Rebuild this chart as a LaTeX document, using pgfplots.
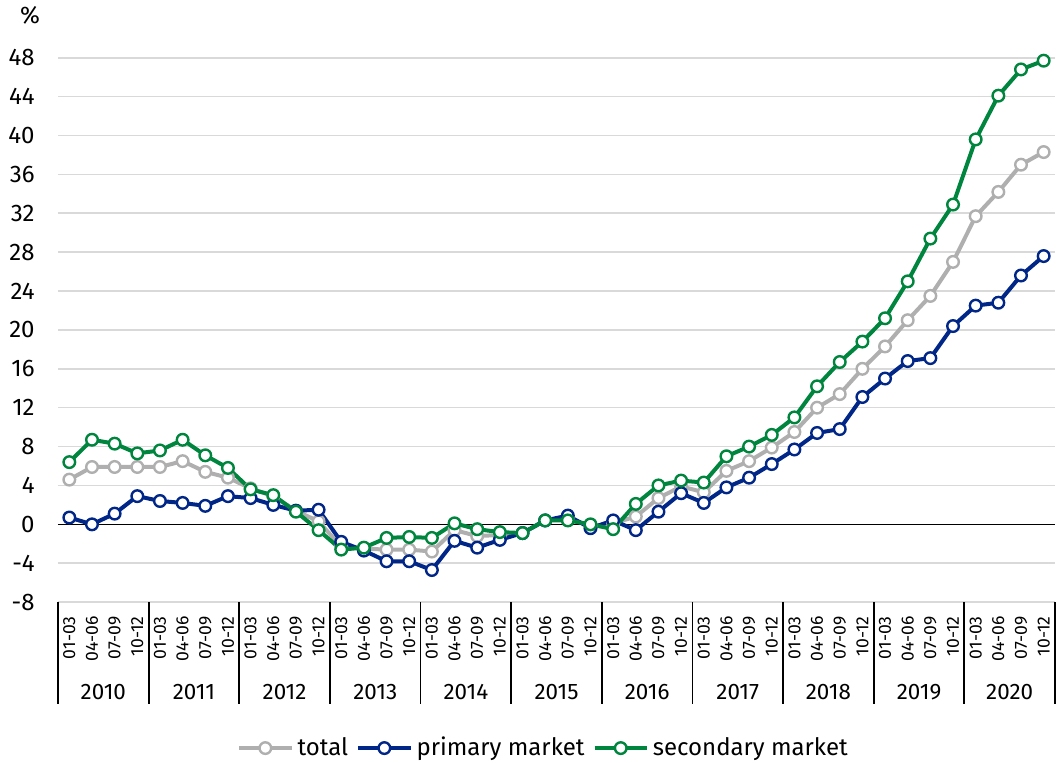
\documentclass[border=0pt]{standalone}
\usepackage{pgfplots}
\pgfplotsset{compat=1.18}
\usepackage{fontspec}
\setmainfont{Fira Sans}
\definecolor{cgray}{RGB}{175,175,175}
\definecolor{cblue}{RGB}{0,38,135}
\definecolor{cgreen}{RGB}{0,133,62}
\definecolor{cgrid}{RGB}{217,217,217}
\pgfplotstableread{
i total primary secondary
0 4.6 0.7 6.4
1 5.9 0.0 8.7
2 5.9 1.1 8.3
3 5.9 2.9 7.3
4 5.9 2.4 7.6
5 6.5 2.2 8.7
6 5.4 1.9 7.1
7 4.8 2.9 5.8
8 3.7 2.7 3.6
9 2.9 2.0 3.0
10 1.4 1.4 1.3
11 0.3 1.5 -0.6
12 -2.3 -1.8 -2.6
13 -2.5 -2.7 -2.4
14 -2.6 -3.8 -1.4
15 -2.6 -3.8 -1.3
16 -2.8 -4.7 -1.4
17 -0.6 -1.7 0.1
18 -1.2 -2.4 -0.5
19 -1.1 -1.6 -0.8
20 -0.9 -0.9 -0.9
21 0.4 0.4 0.4
22 0.7 0.9 0.4
23 -0.2 -0.4 0.0
24 0.1 0.4 -0.5
25 0.8 -0.6 2.1
26 2.7 1.3 4.0
27 3.9 3.2 4.5
28 3.3 2.2 4.3
29 5.5 3.8 7.0
30 6.5 4.8 8.0
31 7.9 6.2 9.2
32 9.5 7.7 11.0
33 12.0 9.4 14.2
34 13.4 9.8 16.7
35 16.0 13.1 18.8
36 18.3 15.0 21.2
37 21.0 16.8 25.0
38 23.5 17.1 29.4
39 27.0 20.4 32.9
40 31.7 22.5 39.6
41 34.2 22.8 44.1
42 37.0 25.6 46.8
43 38.3 27.6 47.7
}\datatable
\begin{document}
\begin{tikzpicture}
\begin{axis}[
  scale only axis,
  width=498.5pt, height=291.6pt,
  xmin=-0.5, xmax=43.5,
  ymin=-8, ymax=52,
  ytick={-8,-4,...,48},
  yticklabels={-8,-4,0,4,8,12,16,20,24,28,32,36,40,44,48},
  xtick={0,...,43},
  xticklabels={01-03,04-06,07-09,10-12,01-03,04-06,07-09,10-12,01-03,04-06,07-09,10-12,01-03,04-06,07-09,10-12,01-03,04-06,07-09,10-12,01-03,04-06,07-09,10-12,01-03,04-06,07-09,10-12,01-03,04-06,07-09,10-12,01-03,04-06,07-09,10-12,01-03,04-06,07-09,10-12,01-03,04-06,07-09,10-12},
  major tick length=0pt,
  axis line style={draw=none},
  ymajorgrids,
  grid style={color=cgrid, line width=0.8pt},
  extra y ticks={0},
  extra y tick labels={},
  extra y tick style={grid style={black, line width=0.75pt}},
  yticklabel style={font=\fontsize{12}{14}\selectfont, anchor=east, inner sep=0pt},
  yticklabel shift=11.5pt,
  xticklabel style={font=\fontsize{8.8}{10}\selectfont, rotate=90, anchor=east, inner sep=0pt},
  xticklabel shift=7pt,
  clip=false,
  legend columns=-1,
  legend style={draw=none, fill=none, at={(0.5,0)}, anchor=center, yshift=-73pt, xshift=-6pt,
    font=\fontsize{12}{14}\selectfont, inner sep=0pt,
    /tikz/every even column/.append style={column sep=2pt}},
  legend image code/.code={\draw[mark repeat=2,mark phase=2] plot coordinates {(0cm,0cm)(0.46cm,0cm)(0.92cm,0cm)};},
  every axis plot/.append style={line width=2pt, mark=*, mark size=2.9pt,
     mark options={fill=white, line width=1.2pt}},
]
\addplot[color=cgray] table[x=i,y=total]{\datatable};
\addlegendentry{total}
\addplot[color=cblue] table[x=i,y=primary]{\datatable};
\addlegendentry{primary market}
\addplot[color=cgreen] table[x=i,y=secondary]{\datatable};
\addlegendentry{secondary market}
\pgfplotsinvokeforeach{0,...,11}{
  \draw[black, line width=0.9pt] (axis cs:{4*#1-0.5},-8) -- ([yshift=-51pt]axis cs:{4*#1-0.5},-8);
}
\pgfplotsinvokeforeach{0,...,10}{
  \node[font=\fontsize{11.2}{13}\selectfont] at ([yshift=-45pt]axis cs:{4*#1+1.5},-8) {\pgfmathparse{int(2010+#1)}\pgfmathresult};
}
\node[font=\fontsize{12}{14}\selectfont, anchor=east, inner sep=0pt] at ([xshift=-8.8pt,yshift=1.9pt]rel axis cs:0,1) {\%};
\coordinate (O) at (rel axis cs:0,0);
\coordinate (T) at (rel axis cs:1,1);
\end{axis}
\pgfresetboundingbox
\path ([shift={(-29pt,-80.45pt)}]O) rectangle ([shift={(0.5pt,9.45pt)}]T);
\end{tikzpicture}
\end{document}
